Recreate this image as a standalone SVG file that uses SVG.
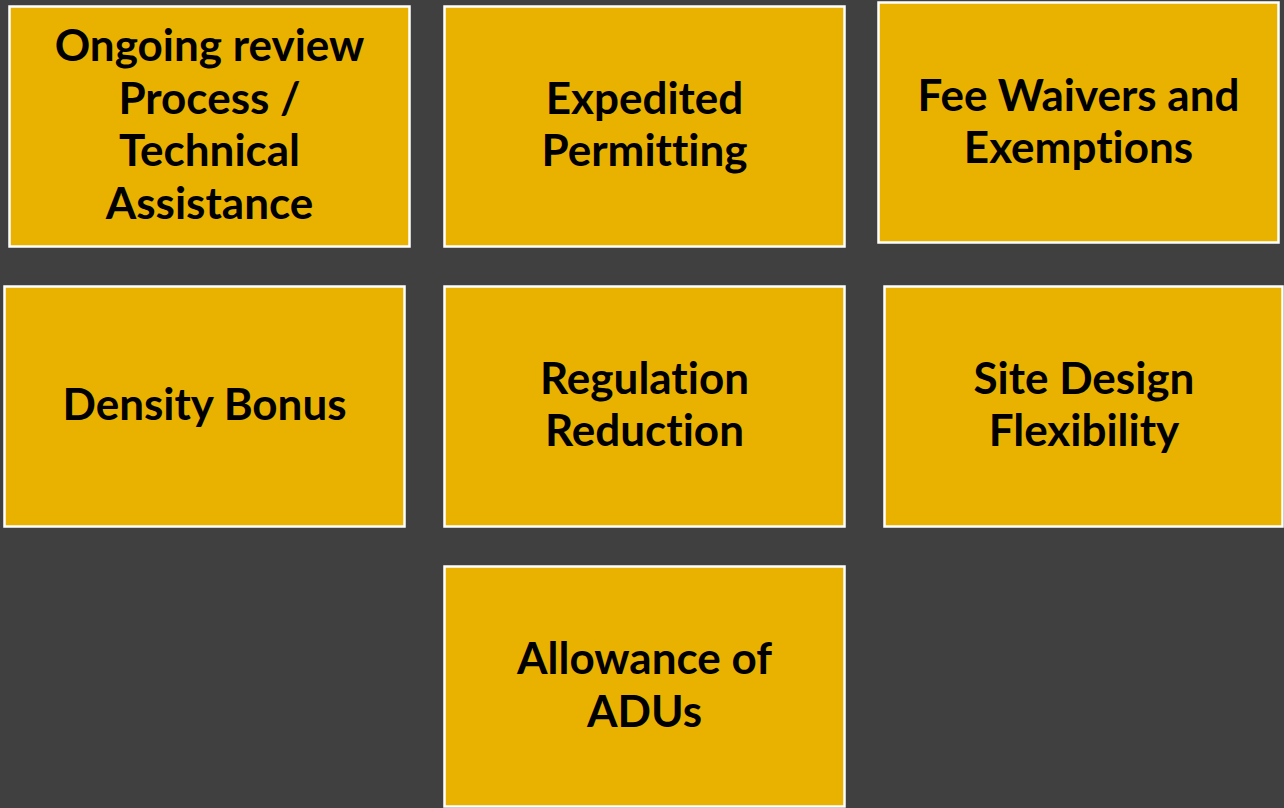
<svg xmlns="http://www.w3.org/2000/svg" width="1284" height="808" viewBox="0 0 1284 808">
  <style>
    .box { fill: #E9B200; stroke: #FFFFFF; stroke-width: 2.5; }
    .lbl { font-family: Lato, "Liberation Sans", sans-serif; font-weight: 700; font-size: 44px; fill: #000000; text-anchor: middle; font-variant-ligatures: none; font-feature-settings: "liga" 0, "clig" 0, "dlig" 0; }
  </style>
  <rect x="0" y="0" width="1284" height="808" fill="#404040"/>
  <g id="node-ongoing-review">
    <rect class="box" x="9.5" y="6.5" width="400" height="240"/>
    <text class="lbl" x="209.5" y="61.3">Ongoing review</text>
    <text class="lbl" x="209.5" y="113.8">Process /</text>
    <text class="lbl" x="209.5" y="166.3">Technical</text>
    <text class="lbl" x="209.5" y="218.8">Assistance</text>
  </g>
  <g id="node-expedited-permitting">
    <rect class="box" x="444.5" y="6.5" width="400" height="240"/>
    <text class="lbl" x="644.5" y="113.8">Expedited</text>
    <text class="lbl" x="644.5" y="166.3">Permitting</text>
  </g>
  <g id="node-fee-waivers">
    <rect class="box" x="878.5" y="2.5" width="400" height="240"/>
    <text class="lbl" x="1078.5" y="110.7">Fee Waivers and</text>
    <text class="lbl" x="1078.5" y="163.2">Exemptions</text>
  </g>
  <g id="node-density-bonus">
    <rect class="box" x="4.5" y="286.5" width="400" height="240"/>
    <text class="lbl" x="204.5" y="420">Density Bonus</text>
  </g>
  <g id="node-regulation-reduction">
    <rect class="box" x="444.5" y="286.5" width="400" height="240"/>
    <text class="lbl" x="644.5" y="393.7">Regulation</text>
    <text class="lbl" x="644.5" y="446.2">Reduction</text>
  </g>
  <g id="node-site-design">
    <rect class="box" x="884.5" y="286.5" width="398" height="240"/>
    <text class="lbl" x="1084" y="393.5">Site Design</text>
    <text class="lbl" x="1084" y="446.2">Flexibility</text>
  </g>
  <g id="node-adus">
    <rect class="box" x="444.5" y="566.5" width="400" height="240"/>
    <text class="lbl" x="644.5" y="674">Allowance of</text>
    <text class="lbl" x="644.5" y="726.5">ADUs</text>
  </g>
  <g id="connectors"></g>
</svg>
